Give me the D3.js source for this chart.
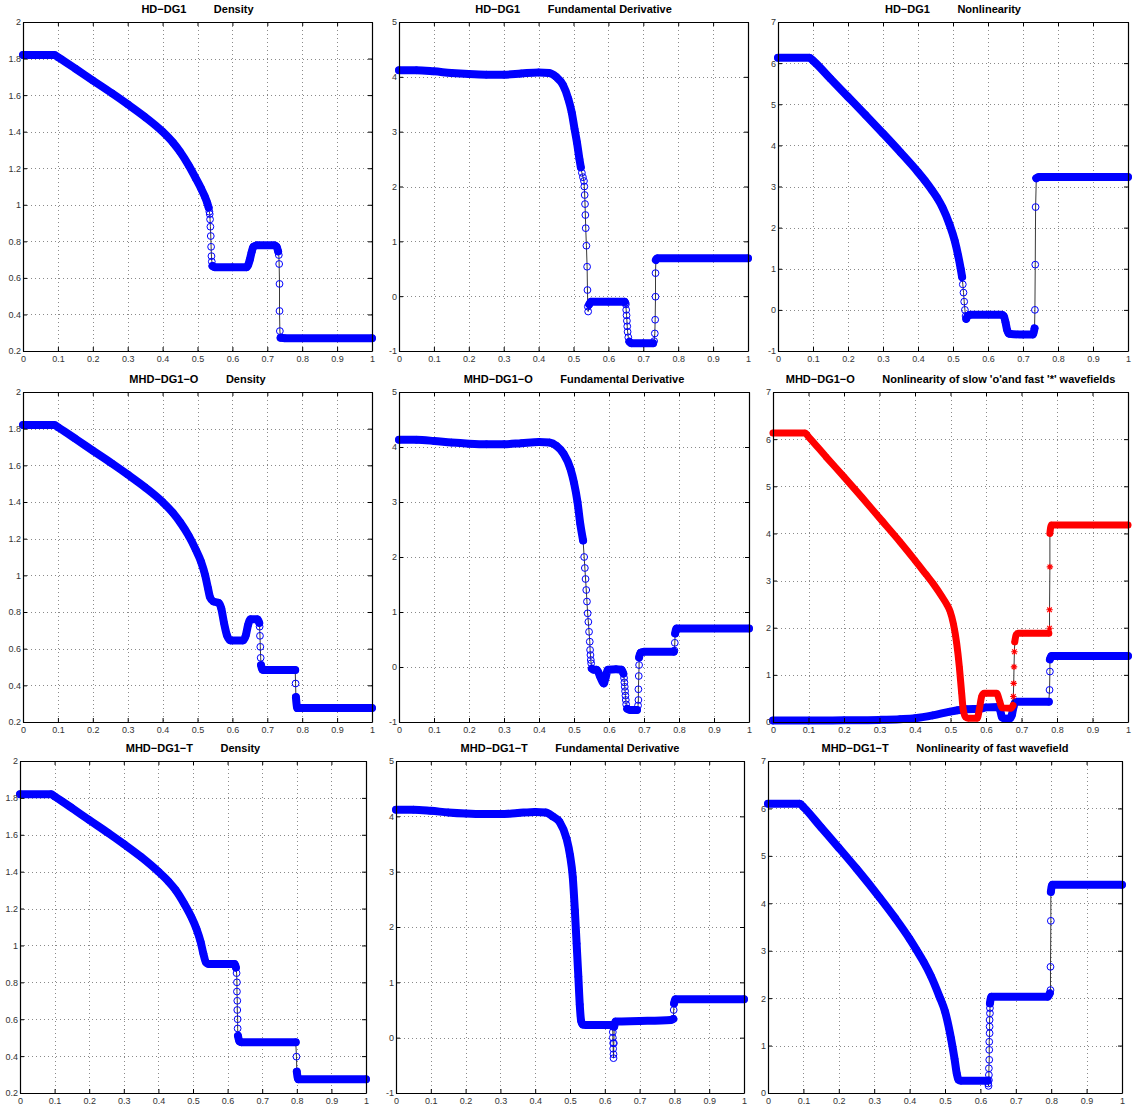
<!DOCTYPE html>
<html><head><meta charset="utf-8">
<script src="https://cdn.jsdelivr.net/npm/d3@7"></script>
<style>body{margin:0;background:#fff}svg{display:block}</style>
</head><body>
<svg id="c" width="1134" height="1109"></svg>
<script>
// ---------- tick labels ----------
const xTicks = [0,0.1,0.2,0.3,0.4,0.5,0.6,0.7,0.8,0.9,1];
const densityTicks = [0.2,0.4,0.6,0.8,1,1.2,1.4,1.6,1.8,2];
const fdTicks = [-1,0,1,2,3,4,5];
const nlTicksHD = [-1,0,1,2,3,4,5,6,7];
const nlTicks = [0,1,2,3,4,5,6,7];

// ---------- titles ----------
const schemeNames = ["HD−DG1","HD−DG1","HD−DG1","MHD−DG1−O","MHD−DG1−O","MHD−DG1−O","MHD−DG1−T","MHD−DG1−T","MHD−DG1−T"];
const quantityNames = ["Density","Fundamental Derivative","Nonlinearity","Density","Fundamental Derivative","Nonlinearity of slow 'o'and fast '*' wavefields","Density","Fundamental Derivative","Nonlinearity of fast wavefield"];

// ---------- data (x, value) ----------
const hdDensity = [[0,1.82],[0.09,1.82],[0.1,1.808],[0.15,1.745],[0.2,1.68],[0.255,1.61],[0.3,1.55],[0.35,1.48],[0.4,1.40],[0.43,1.34],[0.45,1.29],[0.475,1.215],[0.495,1.145],[0.51,1.09],[0.521,1.045],[0.528,1.01],[0.532,0.985],
 [0.534,0.962],[0.535,0.949],[0.536,0.92],[0.537,0.88],[0.538,0.829],[0.539,0.77],[0.540,0.719],[0.541,0.689],[0.543,0.665],
 [0.55,0.658],[0.6,0.658],[0.64,0.658],[0.645,0.67],[0.65,0.70],[0.655,0.74],[0.66,0.77],[0.67,0.778],[0.72,0.778],[0.727,0.77],[0.731,0.745],
 [0.733,0.725],[0.734,0.676],[0.735,0.567],[0.735,0.419],[0.736,0.309],[0.738,0.272],[0.75,0.27],[1,0.27]];

const hdFD = [[0,4.12],[0.05,4.12],[0.1,4.1],[0.15,4.07],[0.2,4.05],[0.25,4.04],[0.3,4.04],[0.35,4.06],[0.4,4.08],[0.43,4.07],[0.45,4.0],[0.47,3.85],[0.485,3.6],[0.495,3.35],[0.503,3.05],[0.51,2.8],[0.517,2.5],
 [0.521,2.35],[0.524,2.25],[0.527,2.17],[0.530,2.1],[0.531,2.0],[0.532,1.845],[0.533,1.68],[0.534,1.48],[0.535,1.24],[0.537,0.92],[0.539,0.537],[0.540,0.112],[0.541,-0.19],[0.542,-0.28],[0.545,-0.15],
 [0.55,-0.1],[0.6,-0.1],[0.646,-0.1],[0.649,-0.12],[0.650,-0.15],[0.651,-0.25],[0.652,-0.35],[0.653,-0.45],[0.654,-0.55],[0.655,-0.65],[0.657,-0.75],[0.66,-0.83],
 [0.665,-0.86],[0.7,-0.86],[0.728,-0.86],[0.731,-0.82],[0.733,-0.68],[0.734,-0.43],[0.735,-0.01],[0.735,0.42],[0.736,0.66],[0.74,0.69],[1,0.69]];

const hdNL = [[0,6.13],[0.09,6.13],[0.1,6.06],[0.15,5.62],[0.2,5.18],[0.25,4.74],[0.3,4.29],[0.35,3.83],[0.4,3.35],[0.42,3.14],[0.44,2.91],[0.455,2.72],[0.47,2.49],[0.49,2.08],[0.505,1.68],[0.515,1.31],[0.522,1.0],
 [0.526,0.8],[0.528,0.62],[0.530,0.42],[0.532,0.2],[0.534,0.0],[0.536,-0.15],[0.538,-0.22],[0.542,-0.15],[0.55,-0.12],[0.64,-0.12],[0.645,-0.15],[0.65,-0.3],[0.655,-0.5],
 [0.66,-0.58],[0.7,-0.6],[0.728,-0.6],[0.733,-0.45],[0.734,0.0],[0.735,1.1],[0.736,2.5],[0.738,3.2],[0.745,3.23],[1,3.23]];

const mhdDensity = [[0,1.82],[0.09,1.82],[0.1,1.808],[0.15,1.745],[0.2,1.68],[0.255,1.61],[0.3,1.55],[0.35,1.48],[0.4,1.40],[0.43,1.34],[0.45,1.29],[0.475,1.215],[0.495,1.14],[0.51,1.075],[0.522,1.0],[0.53,0.93],[0.536,0.88],
 [0.545,0.858],[0.56,0.85],[0.568,0.82],[0.576,0.74],[0.585,0.67],[0.595,0.645],[0.63,0.645],[0.638,0.67],[0.645,0.73],[0.652,0.76],[0.672,0.76],[0.677,0.74],
 [0.678,0.72],[0.679,0.67],[0.680,0.61],[0.681,0.55],[0.682,0.51],[0.686,0.485],[0.69,0.483],[0.78,0.483],[0.781,0.41],[0.782,0.336],[0.786,0.276],[1,0.276]];

const mhdFD = [[0,4.13],[0.05,4.13],[0.1,4.11],[0.15,4.08],[0.2,4.06],[0.25,4.05],[0.3,4.05],[0.35,4.07],[0.4,4.09],[0.43,4.08],[0.45,4.02],[0.47,3.88],[0.49,3.6],[0.5,3.35],[0.51,3.0],[0.518,2.6],[0.526,2.3],
 [0.529,2.0],[0.531,1.8],[0.533,1.6],[0.535,1.4],[0.537,1.19],[0.539,0.976],[0.541,0.82],[0.543,0.64],[0.545,0.46],[0.546,0.31],[0.547,0.218],[0.548,0.127],[0.549,0.067],[0.551,-0.03],
 [0.556,-0.05],[0.565,-0.05],[0.575,-0.18],[0.585,-0.3],[0.59,-0.2],[0.597,-0.05],[0.62,-0.04],[0.636,-0.05],[0.641,-0.12],[0.643,-0.2],[0.644,-0.28],[0.645,-0.36],[0.646,-0.44],
 [0.647,-0.52],[0.648,-0.6],[0.649,-0.68],[0.652,-0.76],[0.66,-0.78],[0.68,-0.78],[0.683,-0.7],[0.684,-0.6],[0.684,-0.405],[0.685,-0.164],[0.686,0.036],[0.686,0.176],
 [0.69,0.26],[0.7,0.278],[0.785,0.278],[0.787,0.3],[0.788,0.44],[0.789,0.61],[0.793,0.70],[1,0.70]];

const mhdNLfast = [[0,6.13],[0.09,6.13],[0.1,6.05],[0.15,5.62],[0.2,5.2],[0.25,4.77],[0.3,4.33],[0.358,3.82],[0.4,3.43],[0.43,3.14],[0.4516,2.93],[0.475,2.67],[0.489,2.5],[0.4986,2.35],[0.508,2.09],[0.5174,1.67],[0.5249,1.17],[0.5315,0.61],
 [0.536,0.25],[0.543,0.1],[0.55,0.08],[0.575,0.08],[0.582,0.3],[0.588,0.55],[0.595,0.61],[0.63,0.61],[0.638,0.45],[0.645,0.3],[0.67,0.29],[0.676,0.35],
 [0.677,0.54],[0.678,0.82],[0.679,1.17],[0.680,1.49],[0.681,1.70],[0.685,1.85],[0.69,1.88],[0.777,1.88],[0.779,1.99],[0.779,2.38],[0.780,3.29],[0.780,4.0],[0.784,4.18],[1,4.18]];

const mhdNLslow = [[0,0.03],[0.1,0.03],[0.2,0.035],[0.3,0.045],[0.358,0.06],[0.4,0.08],[0.45,0.14],[0.4986,0.22],[0.52,0.25],[0.545,0.27],[0.583,0.28],[0.6,0.31],[0.634,0.32],
 [0.64,0.25],[0.645,0.1],[0.655,0.07],[0.668,0.08],[0.673,0.15],[0.677,0.3],[0.681,0.4],[0.686,0.43],[0.777,0.43],[0.779,0.68],[0.780,1.07],[0.780,1.33],[0.784,1.40],[1,1.40]];

const mhdTDensity = [[0,1.82],[0.09,1.82],[0.1,1.808],[0.15,1.745],[0.2,1.68],[0.255,1.61],[0.3,1.55],[0.35,1.48],[0.4,1.40],[0.43,1.345],[0.45,1.3],[0.475,1.225],[0.495,1.155],[0.51,1.09],[0.522,1.02],[0.53,0.955],[0.537,0.91],[0.545,0.9],
 [0.62,0.9],[0.624,0.88],[0.626,0.85],[0.627,0.8],[0.627,0.75],[0.628,0.7],[0.628,0.65],[0.629,0.6],[0.629,0.55],[0.63,0.51],[0.634,0.48],[0.64,0.475],
 [0.797,0.475],[0.799,0.397],[0.8,0.316],[0.804,0.274],[1,0.274]];

const mhdTFD = [[0,4.12],[0.05,4.12],[0.1,4.1],[0.15,4.07],[0.2,4.05],[0.25,4.04],[0.3,4.04],[0.35,4.06],[0.4,4.08],[0.43,4.07],[0.45,4.0],[0.47,3.9],[0.49,3.6],[0.5,3.3],[0.508,2.9],
 [0.514,2.3],[0.519,1.7],[0.524,1.1],[0.528,0.6],[0.532,0.3],[0.537,0.235],[0.545,0.23],[0.62,0.23],[0.622,0.2],[0.623,0.1],[0.623,0.0],[0.624,-0.1],[0.624,-0.2],
 [0.625,-0.3],[0.625,-0.37],[0.626,-0.1],[0.627,0.2],[0.631,0.29],[0.7,0.3],[0.79,0.32],[0.797,0.34],[0.798,0.5],[0.799,0.62],[0.803,0.694],[1,0.694]];

const mhdTNL = [[0,6.1],[0.09,6.1],[0.1,6.03],[0.15,5.6],[0.2,5.17],[0.25,4.73],[0.3155,4.12],[0.36,3.68],[0.4,3.25],[0.42,3.01],[0.44,2.76],[0.46,2.47],[0.4845,2.03],[0.5,1.72],[0.517,1.15],[0.527,0.72],[0.533,0.42],
 [0.538,0.28],[0.545,0.26],[0.62,0.26],[0.622,0.2],[0.623,0.15],[0.624,0.27],[0.624,0.38],[0.624,0.52],[0.625,0.7],[0.625,0.91],[0.625,1.08],[0.626,1.26],[0.626,1.40],
 [0.626,1.54],[0.627,1.68],[0.627,1.79],[0.627,1.89],[0.631,2.03],[0.79,2.03],[0.796,2.1],[0.798,2.17],[0.798,2.66],[0.799,3.63],[0.799,4.24],[0.803,4.39],[1,4.39]];

// ---------- layout ----------
const panels = [
 {box:[23,372,22,351],  yTicks:densityTicks, series:[{data:hdDensity,m:"o"}]},
 {box:[399,748,22,351], yTicks:fdTicks,      series:[{data:hdFD,m:"o"}]},
 {box:[778,1128,22,351],yTicks:nlTicksHD,    series:[{data:hdNL,m:"o"}]},
 {box:[23,372,392,722], yTicks:densityTicks, series:[{data:mhdDensity,m:"o"}]},
 {box:[399,749,392,722],yTicks:fdTicks,      series:[{data:mhdFD,m:"o"}]},
 {box:[773,1128,392,722],yTicks:nlTicks,     series:[{data:mhdNLslow,m:"o"},{data:mhdNLfast,m:"*"}]},
 {box:[20,366,761,1093],yTicks:densityTicks, series:[{data:mhdTDensity,m:"o"}]},
 {box:[396,744,761,1093],yTicks:fdTicks,     series:[{data:mhdTFD,m:"o"}]},
 {box:[768,1122,761,1093],yTicks:nlTicks,    series:[{data:mhdTNL,m:"o"}]}
];

const svg = d3.select("#c");
const FONT = "'Liberation Sans', Arial, Helvetica, sans-serif";

panels.forEach((p,i)=>{
  const [l,r,t,b] = p.box;
  const yt = p.yTicks;
  const x = d3.scaleLinear().domain([0,1]).range([l,r]);
  const y = d3.scaleLinear().domain([yt[0], yt[yt.length-1]]).range([b,t]);
  const g = svg.append("g");

  // grid
  const grid = g.append("g").attr("stroke","#8a8a8a").attr("stroke-width",1).attr("stroke-dasharray","1,3").attr("shape-rendering","crispEdges");
  grid.selectAll("line.v").data(xTicks.slice(1,-1)).join("line").attr("class","v")
    .attr("x1",d=>Math.round(x(d))+0.5).attr("x2",d=>Math.round(x(d))+0.5).attr("y1",t).attr("y2",b);
  grid.selectAll("line.h").data(yt.slice(1,-1)).join("line").attr("class","h")
    .attr("y1",d=>Math.round(y(d))+0.5).attr("y2",d=>Math.round(y(d))+0.5).attr("x1",l).attr("x2",r);

  // series
  p.series.forEach(s=>{
    const color = s.m==="o" ? "#0000ff" : "#ff0000";
    const line = d3.line().x(d=>x(d[0])).y(d=>y(d[1]));
    const smooth = d3.line().x(d=>x(d[0])).y(d=>y(d[1])).curve(d3.curveMonotoneX);
    g.append("path").attr("d",line(s.data)).attr("fill","none").attr("stroke","#222").attr("stroke-width",0.9);
    const runs=[]; let cur=null;
    for(let k=0;k<s.data.length-1;k++){
      const dense = Math.abs(s.data[k+1][0]-s.data[k][0]) >= 0.0035;
      if(dense){ if(!cur){cur=[s.data[k]]; runs.push(cur);} cur.push(s.data[k+1]); } else cur=null;
    }
    runs.forEach(run=>g.append("path").attr("d",smooth(run)).attr("fill","none").attr("stroke",color)
      .attr("stroke-width", s.m==="o"?8:7).attr("stroke-linecap","round").attr("stroke-linejoin","round"));
    if(s.m==="o"){
      g.selectAll(null).data(s.data).join("circle").attr("cx",d=>x(d[0])).attr("cy",d=>y(d[1])).attr("r",3.4)
        .attr("fill","none").attr("stroke",color).attr("stroke-width",1);
    } else {
      g.selectAll(null).data(s.data).join("path").attr("transform",d=>`translate(${x(d[0])},${y(d[1])})`)
        .attr("d","M-3.2,0H3.2M0,-3.2V3.2M-2.3,-2.3L2.3,2.3M-2.3,2.3L2.3,-2.3")
        .attr("fill","none").attr("stroke",color).attr("stroke-width",1.1);
    }
  });

  // axes (inward ticks on all four sides)
  const fmt = d=>String(+d.toFixed(2));
  const styleAxis = sel=>{
    sel.selectAll(".domain").attr("stroke","#000").attr("stroke-width",1.2);
    sel.selectAll(".tick line").attr("stroke","#000").attr("stroke-width",1);
    sel.selectAll("text").attr("font-family",FONT).attr("font-size","9px").attr("fill","#333");
  };
  g.append("g").attr("transform",`translate(0,${b})`)
    .call(d3.axisBottom(x).tickValues(xTicks).tickFormat(fmt).tickSizeInner(-4).tickSizeOuter(0).tickPadding(5)).call(styleAxis);
  g.append("g").attr("transform",`translate(0,${t})`)
    .call(d3.axisTop(x).tickValues(xTicks).tickFormat("").tickSizeInner(-4).tickSizeOuter(0)).call(styleAxis);
  g.append("g").attr("transform",`translate(${l},0)`)
    .call(d3.axisLeft(y).tickValues(yt).tickFormat(fmt).tickSizeInner(-4).tickSizeOuter(0).tickPadding(2)).call(styleAxis);
  g.append("g").attr("transform",`translate(${r},0)`)
    .call(d3.axisRight(y).tickValues(yt).tickFormat("").tickSizeInner(-4).tickSizeOuter(0)).call(styleAxis);

  // title
  g.append("text").attr("x",(l+r)/2).attr("y",t-9).attr("text-anchor","middle")
    .attr("font-family",FONT).attr("font-size","11px").attr("font-weight","bold").attr("fill","#000")
    .style("white-space","pre")
    .text(schemeNames[i] + "         " + quantityNames[i]);
});
</script>
</body></html>
